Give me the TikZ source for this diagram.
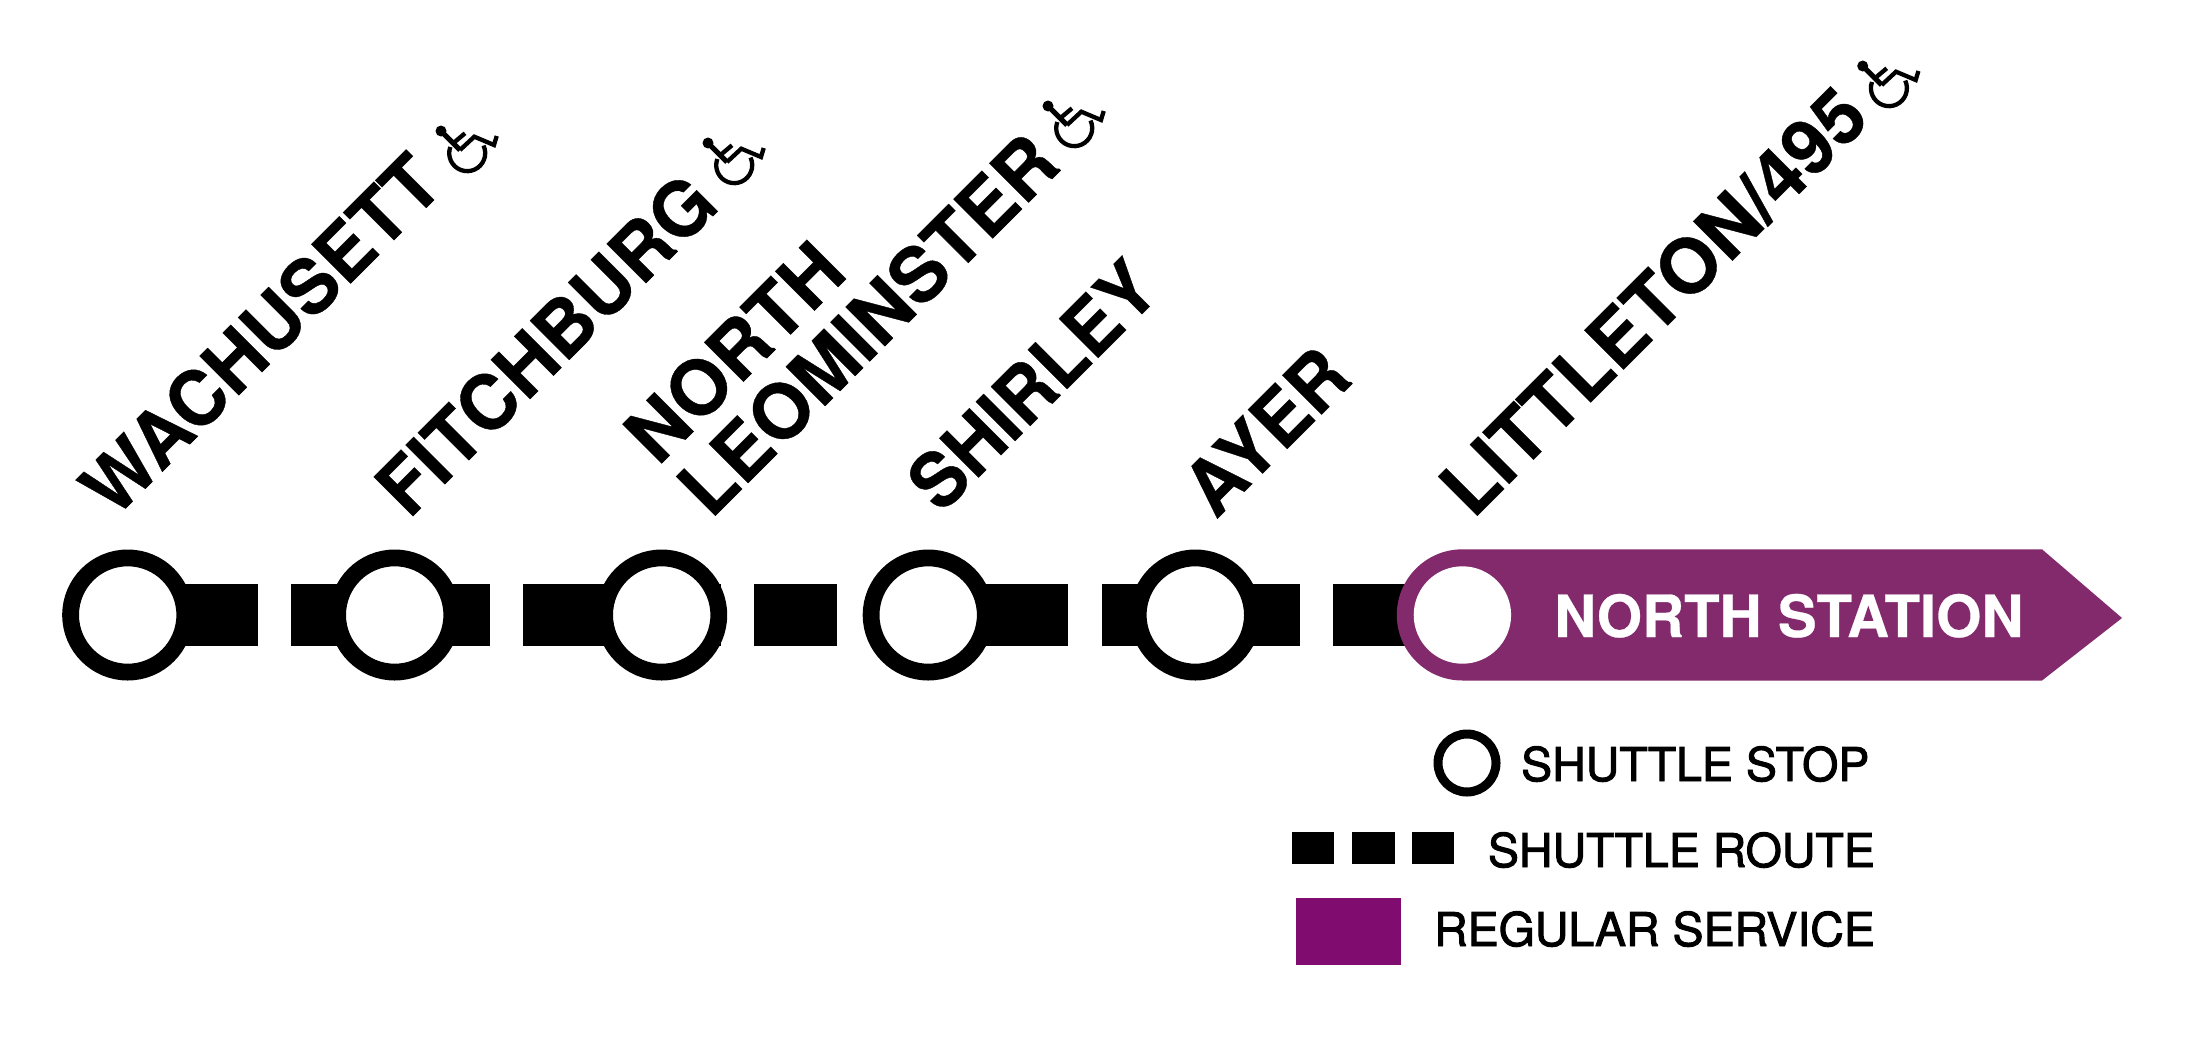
\documentclass[tikz,border=0pt]{standalone}
\usepackage{fontspec}
\usepackage{graphicx}
\setmainfont{TeX Gyre Heros}
\usetikzlibrary{calc}
\definecolor{ribbon}{HTML}{832A6C}
\definecolor{regular}{HTML}{7F0C6E}
\tikzset{
  x=1pt,y=-1pt,
  stationlabel/.style={anchor=base west,rotate=45,inner sep=0pt,outer sep=0pt,font=\fontsize{76}{75}\selectfont\bfseries\addfontfeature{FakeBold=0.5},align=left},
  stopmark/.style={circle,draw=black,fill=white,line width=16.8pt,minimum size=114.2pt,inner sep=0pt,outer sep=0pt},
  busbar/.style={line width=62pt,draw=black},
  legendtext/.style={anchor=base east,inner sep=0pt,font=\fontsize{46.5}{50}\selectfont\addfontfeature{FakeBold=2}},
  legendsq/.style={fill=black,draw=none,inner sep=0pt,minimum width=42.5pt,minimum height=32pt},
  chair/.pic={
    \fill (0,0) circle[radius=5.5];
    \draw[line width=5pt] (0,0) -- (19,19);
    \draw[line width=4.3pt] (14,10.7) -- (24,2.3);
    \draw[line width=4.3pt] (19,19) -- (33.3,5.7) -- (53,14) -- (55.7,5);
    \draw[line width=4.3pt] (9.3,16) arc[start angle=200,end angle=-25,radius=18];
  }
}
\begin{document}
\begin{tikzpicture}
\useasboundingbox (0,0) rectangle (2207,1036);
\foreach \n/\x in {1/127.7,2/394.7,3/661.7,4/928.2,5/1195.3}{\coordinate (s\n) at (\x,615);}
\coordinate (b1) at (258,615);
\coordinate (b2a) at (291,615);\coordinate (b2b) at (490,615);
\coordinate (b3a) at (523,615);\coordinate (b3b) at (721,615);
\coordinate (b4a) at (754,615);\coordinate (b4b) at (837,615);
\coordinate (b5) at (1068,615);
\coordinate (b6a) at (1102,615);\coordinate (b6b) at (1300,615);
\coordinate (b7a) at (1333,615);\coordinate (b7b) at (1420,615);
\draw[busbar] (s1) -- (b1);
\draw[busbar] (b2a) -- (b2b);
\draw[busbar] (b3a) -- (b3b);
\draw[busbar] (b4a) -- (b4b);
\draw[busbar] (s4) -- (b5);
\draw[busbar] (b6a) -- (b6b);
\draw[busbar] (b7a) -- (b7b);
\foreach \n in {1,...,5}{\node[stopmark] (stop\n) at (s\n) {};}
\fill[ribbon] (1462.4,549.3) -- (2042,549.3) -- (2122,618) -- (2042,680.5) -- (1462.4,680.5) arc[start angle=90,end angle=270,radius=65.6] -- cycle;
\node[circle,fill=white,minimum size=97.4pt,inner sep=0pt] (stop6) at (1462.4,615) {};
\node[anchor=base west,inner sep=0pt,text=white,font=\fontsize{58.2}{60}\selectfont\bfseries\addfontfeature{FakeBold=0.5}] (north) at (1554,637) {NORTH STATION};
\node[stationlabel] (l1) at (114,520) {\scalebox{0.98}[1]{WACHUSETT}};
\node[stationlabel] (l2) at (409,520) {\scalebox{0.99}[1]{FITCHBURG}};
\node[stationlabel] (l3a) at (658,467) {NORTH};
\node[stationlabel] (l3b) at (711,520) {LEOMINSTER};
\node[stationlabel] (l4) at (941,515) {\scalebox{0.95}[1]{SHIRLEY}};
\node[stationlabel] (l5) at (1216,520) {\scalebox{0.96}[1]{AYER}};
\node[stationlabel] (l6) at (1473,520) {LITTLETON/495};
\pic at (441,131) {chair};
\pic at (708,143) {chair};
\pic at (1048,106) {chair};
\pic at (1862.7,66) {chair};
% legend
\node[circle,draw=black,fill=white,line width=9pt,minimum size=58pt,inner sep=0pt] (lstop) at (1467,763) {};
\node[legendtext] (t1) at (1869.5,781) {SHUTTLE STOP};
\node[legendtext] (t2) at (1875,867) {SHUTTLE ROUTE};
\node[legendtext] (t3) at (1875,946) {REGULAR SERVICE};
\node[legendsq] (q1) at (1313,848) {};
\node[legendsq] (q2) at (1373.5,848) {};
\node[legendsq] (q3) at (1433,848) {};
\node[fill=regular,inner sep=0pt,minimum width=105pt,minimum height=67pt] (q4) at (1348.5,931.5) {};
\end{tikzpicture}
\end{document}
